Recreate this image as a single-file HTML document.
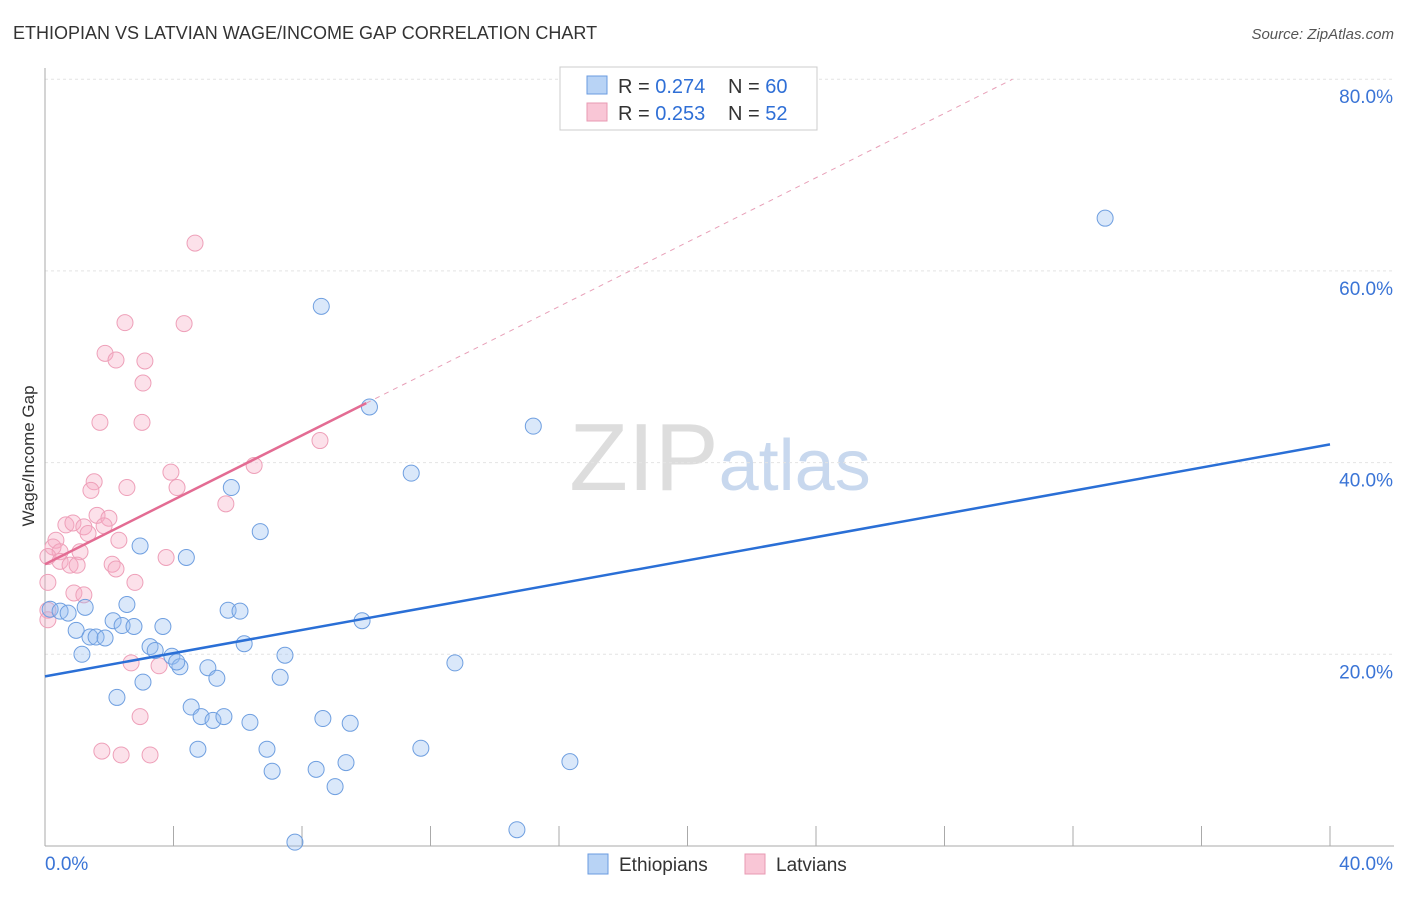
<!DOCTYPE html>
<html><head><meta charset="utf-8"><style>
body{margin:0;background:#fff;font-family:"Liberation Sans",sans-serif;}
svg text{font-family:"Liberation Sans",sans-serif;}
</style></head><body>
<svg width="1406" height="892" xmlns="http://www.w3.org/2000/svg" id="svg">
<text x="13" y="39" font-size="18" fill="#333">ETHIOPIAN VS LATVIAN WAGE/INCOME GAP CORRELATION CHART</text>
<text x="1394" y="39" font-size="15" fill="#555" text-anchor="end" font-style="italic">Source: ZipAtlas.com</text>
<text x="720" y="490" font-size="96" fill="#ddd" text-anchor="middle" font-family="Liberation Serif">ZIP<tspan fill="#c8d8ee" font-family="Liberation Sans" font-size="72">atlas</tspan></text>
<text transform="translate(34,456) rotate(-90)" font-size="17" fill="#333" text-anchor="middle">Wage/Income Gap</text>
<g id="grid"></g><g id="axes"></g><g id="pts"></g><g id="lines"></g>
<g>
<rect x="560" y="67" width="257" height="63" fill="#fff" stroke="#ccc"/>
<rect x="587" y="76" width="20" height="18" fill="#b8d3f5" stroke="#6a9be0"/>
<rect x="587" y="103" width="20" height="18" fill="#f9c6d6" stroke="#e89ab3"/>
<text x="618" y="93" font-size="20" fill="#333">R = <tspan fill="#2f6fd6">0.274</tspan></text>
<text x="728" y="93" font-size="20" fill="#333">N = <tspan fill="#2f6fd6">60</tspan></text>
<text x="618" y="120" font-size="20" fill="#333">R = <tspan fill="#2f6fd6">0.253</tspan></text>
<text x="728" y="120" font-size="20" fill="#333">N = <tspan fill="#2f6fd6">52</tspan></text>
</g>
<g>
<rect x="588" y="854" width="20" height="20" fill="#b8d3f5" stroke="#6a9be0"/>
<text x="619" y="871" font-size="19" fill="#333">Ethiopians</text>
<rect x="745" y="854" width="20" height="20" fill="#f9c6d6" stroke="#e89ab3"/>
<text x="776" y="871" font-size="19" fill="#333">Latvians</text>
</g>
</svg>
<script>
const yTicks=[20,40,60,80];
const yTickLabels=["20.0%","40.0%","60.0%","80.0%"];
const xLabels=["0.0%","40.0%"];
const ethX=[33.0,8.6,10.1,15.2,11.4,5.8,6.7,2.96,4.4,1.25,2.55,0.16,0.47,0.72,5.7,6.07,9.87,2.12,2.4,2.77,3.67,0.97,1.4,1.59,1.87,6.2,3.27,3.43,3.95,1.15,7.47,4.2,4.1,12.76,5.07,5.35,7.32,3.05,2.24,4.55,4.86,5.23,5.57,6.38,8.65,9.5,4.76,6.91,11.7,7.07,8.44,9.37,16.34,9.03,7.78,14.69];
const ethY=[65.5,56.3,45.8,43.8,38.9,37.4,32.8,31.3,30.1,24.9,25.2,24.7,24.5,24.3,24.6,24.5,23.5,23.5,23.0,22.9,22.9,22.5,21.8,21.8,21.7,21.1,20.8,20.4,19.8,20.0,19.9,18.7,19.2,19.1,18.6,17.5,17.6,17.1,15.5,14.5,13.5,13.1,13.5,12.9,13.3,12.8,10.1,10.1,10.2,7.8,8.0,8.7,8.8,6.2,0.4,1.7];
const latX=[4.67,2.49,4.33,1.87,2.21,3.11,3.05,1.71,3.02,8.56,6.51,3.92,1.53,4.11,2.55,1.43,5.63,1.62,1.99,0.65,0.87,1.21,1.84,1.34,2.3,0.34,0.25,0.47,1.09,0.09,0.47,0.78,1.0,2.09,3.77,2.21,2.8,0.09,0.9,1.21,2.68,3.55,2.96,1.77,2.37,3.27,0.09,0.09];
const latY=[62.9,54.6,54.5,51.4,50.7,50.6,48.3,44.2,44.2,42.3,39.7,39.0,38.0,37.4,37.4,37.1,35.7,34.5,34.2,33.5,33.7,33.3,33.4,32.6,31.9,31.9,31.2,30.7,30.7,30.2,29.7,29.3,29.3,29.4,30.1,28.9,27.5,27.5,26.4,26.2,19.1,18.8,13.5,9.9,9.5,9.5,24.6,23.6];
const ethLine=[17.7,41.9], latLine=[29.4,46.2];
const NS="http://www.w3.org/2000/svg";
const X=v=>45+v*32.125, Y=v=>846-v*9.585;
function mk(t,a,p){const e=document.createElementNS(NS,t);for(const k in a)e.setAttribute(k,a[k]);document.getElementById(p).appendChild(e);return e;}
yTicks.forEach((t,i)=>{
 const g=mk('line',{x1:45,x2:1394,y1:Y(t),y2:Y(t),stroke:'#e4e4e4','stroke-dasharray':'3,3'},'grid');
 
 
 const l=mk('text',{x:1393,y:Y(t)+24,'font-size':19,fill:'#3a74d6','text-anchor':'end'},'axes');
 l.textContent=yTickLabels[i];
 
 
});
mk('line',{x1:45,x2:45,y1:68,y2:846,stroke:'#aaa'},'axes');
mk('line',{x1:45,x2:1394,y1:846,y2:846,stroke:'#aaa'},'axes');
for(let i=1;i<=10;i++){mk('line',{x1:X(i*4),x2:X(i*4),y1:826,y2:846,stroke:'#aaa'},'axes');}
const xl0=mk('text',{x:45,y:870,'font-size':19,fill:'#3a74d6'},'axes');xl0.textContent=xLabels[0];


const xl1=mk('text',{x:1393,y:870,'font-size':19,fill:'#3a74d6','text-anchor':'end'},'axes');xl1.textContent=xLabels[1];


latX.forEach((v,i)=>{const c=mk('circle',{cx:X(v),cy:Y(latY[i]),r:8,fill:'rgba(246,170,195,0.35)',stroke:'#eea0b9','stroke-width':1},'pts');
 
 });
ethX.forEach((v,i)=>{const c=mk('circle',{cx:X(v),cy:Y(ethY[i]),r:8,fill:'rgba(150,190,240,0.35)',stroke:'#6f9fe0','stroke-width':1},'pts');
 
 });
const b=mk('line',{x1:X(0),y1:Y(ethLine[0]),x2:X(40),y2:Y(ethLine[1]),stroke:'#2a6fd6','stroke-width':2.5},'lines');


const s=(latLine[1]-latLine[0])/10, xe=(80-latLine[0])/s;
const pd=mk('line',{x1:X(10),y1:Y(latLine[1]),x2:X(xe),y2:Y(80),stroke:'#e8a0b8','stroke-width':1,'stroke-dasharray':'5,5'},'lines');


const p=mk('line',{x1:X(0),y1:Y(latLine[0]),x2:X(10),y2:Y(latLine[1]),stroke:'#e36c93','stroke-width':2.5},'lines');


</script>
</body></html>
